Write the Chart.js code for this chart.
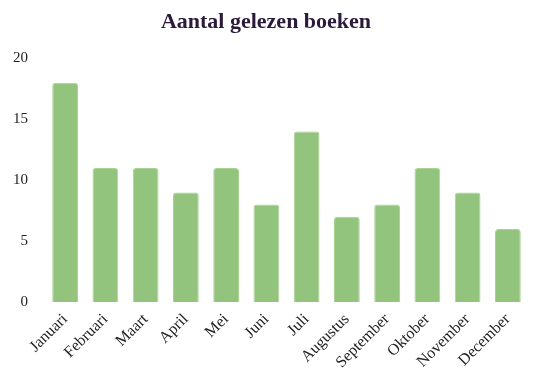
<!DOCTYPE html>
<html>
<head>
<meta charset="utf-8">
<script src="https://cdn.jsdelivr.net/npm/chart.js@4/dist/chart.umd.min.js"></script>
<style>
  html, body { margin: 0; padding: 0; background: #fff; }
  #wrap { width: 538px; height: 387px; }
</style>
</head>
<body>
<div id="wrap"><canvas id="myChart" width="538" height="387"></canvas></div>
<script>
// maanden en aantal boeken
var maanden = ["Januari", "Februari", "Maart", "April", "Mei", "Juni", "Juli",
               "Augustus", "September", "Oktober", "November", "December"];
var boeken = [18, 11, 11, 9, 11, 8, 14, 7, 8, 11, 9, 6];
var yTicks = [0, 5, 10, 15, 20];

var serif = "'Liberation Serif', 'DejaVu Serif', serif";

var ctx = document.getElementById("myChart").getContext("2d");
var myChart = new Chart(ctx, {
  type: 'bar',
  data: {
    labels: maanden,
    datasets: [
      { label: "Boeken", data: boeken,
        backgroundColor: '#93c47d', borderColor: '#a9d494', borderWidth: 1,
        borderRadius: 3, borderSkipped: 'bottom',
        barPercentage: 0.8, categoryPercentage: 0.8 }
    ]
  },
  options: {
    responsive: false,
    animation: false,
    layout: { padding: { left: 4, right: 10, top: 2, bottom: 15 } },
    plugins: {
      legend: { display: false },
      tooltip: { enabled: false },
      title: {
        display: true, text: "Aantal gelezen boeken", color: '#2b1a3c',
        font: { family: serif, size: 22, weight: 'bold' },
        padding: { top: 7, bottom: 23 }
      }
    },
    scales: {
      x: {
        grid: { display: false }, border: { display: false },
        ticks: { color: '#222', font: { family: serif, size: 16 },
                 maxRotation: 45, minRotation: 45, padding: 0 }
      },
      y: {
        min: 0, max: 20,
        afterBuildTicks: function(axis) { axis.ticks = yTicks.map(function(v) { return { value: v }; }); },
        grid: { display: false }, border: { display: false },
        ticks: { color: '#222', font: { family: serif, size: 15 }, padding: 9 }
      }
    }
  }
});
</script>
</body>
</html>
